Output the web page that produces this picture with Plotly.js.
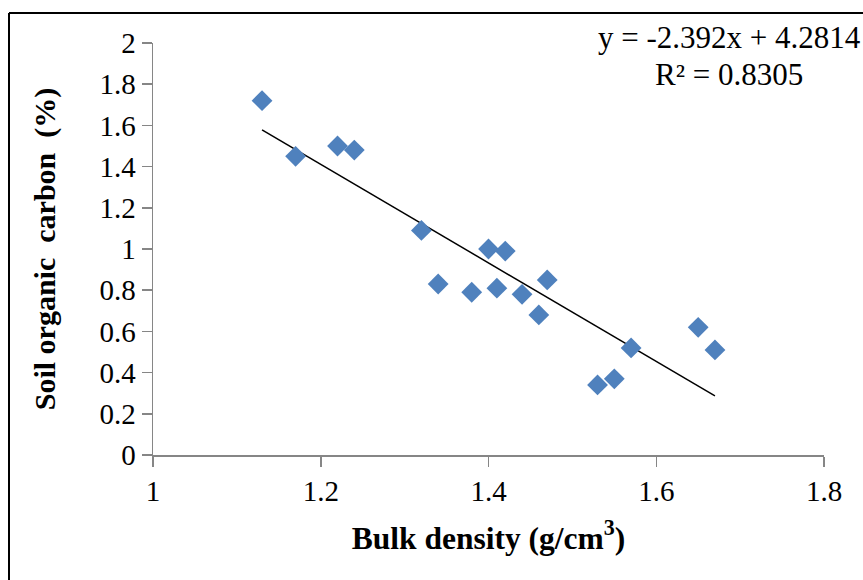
<!DOCTYPE html>
<html>
<head>
<meta charset="utf-8">
<script src="https://cdn.plot.ly/plotly-3.0.1.min.js"></script>
<style>html,body{margin:0;padding:0;background:#fff;}#chart{width:863px;height:580px;}</style>
</head>
<body>
<div id="chart"></div>
<script>
const bulkDensity = [1.13, 1.17, 1.22, 1.24, 1.32, 1.34, 1.38, 1.40, 1.42, 1.41, 1.44, 1.47, 1.46, 1.57, 1.53, 1.55, 1.65, 1.67];
const soilCarbon  = [1.72, 1.45, 1.50, 1.48, 1.09, 0.83, 0.79, 1.00, 0.99, 0.81, 0.78, 0.85, 0.68, 0.52, 0.34, 0.37, 0.62, 0.51];
const trendSlope = [-2.392];
const trendIntercept = [4.2814];
const rSquared = ["0.8305"];
const xTickVals = [1, 1.2, 1.4, 1.6, 1.8];
const xTickText = ["1", "1.2", "1.4", "1.6", "1.8"];
const yTickVals = [0, 0.2, 0.4, 0.6, 0.8, 1, 1.2, 1.4, 1.6, 1.8, 2];
const yTickText = ["0", "0.2", "0.4", "0.6", "0.8", "1", "1.2", "1.4", "1.6", "1.8", "2"];

const xMin = Math.min(...bulkDensity), xMax = Math.max(...bulkDensity);
const trendX = [xMin, xMax];
const trendY = trendX.map(v => trendSlope[0] * v + trendIntercept[0]);

const serif = "Liberation Serif, Times New Roman, serif";
const axisColor = "#868686";

const data = [
  {x: trendX, y: trendY, type: "scatter", mode: "lines",
   line: {color: "#000000", width: 1.5}, hoverinfo: "skip", showlegend: false},
  {x: bulkDensity, y: soilCarbon, type: "scatter", mode: "markers",
   marker: {symbol: "diamond", size: 16, color: "#4F81BD", line: {width: 0}}, showlegend: false}
];

const layout = {
  width: 863, height: 580,
  margin: {l: 153, r: 39, t: 43, b: 125},
  paper_bgcolor: "#ffffff", plot_bgcolor: "#ffffff",
  font: {family: serif, color: "#000000", size: 29},
  showlegend: false,
  xaxis: {
    range: [1, 1.8], tickvals: xTickVals, ticktext: xTickText,
    showgrid: false, zeroline: false, showline: true, linecolor: axisColor, linewidth: 1.5,
    ticks: "outside", ticklen: 10, tickcolor: axisColor, tickwidth: 1.5,
    tickfont: {family: serif, size: 29},
    title: {text: "<b>Bulk density (g/cm<sup>3</sup>)</b>", font: {family: serif, size: 31.5}, standoff: 20}
  },
  yaxis: {
    range: [0, 2], tickvals: yTickVals, ticktext: yTickText,
    showgrid: false, zeroline: false, showline: true, linecolor: axisColor, linewidth: 1.5,
    ticks: "outside", ticklen: 10, tickcolor: axisColor, tickwidth: 1.5,
    tickfont: {family: serif, size: 29},
    title: {text: "<b>Soil organic  carbon  (%)</b>", font: {family: serif, size: 30}, standoff: 35}
  },
  annotations: [
    {xref: "paper", yref: "paper", x: 0.8585, y: 1.0128, xanchor: "center", yanchor: "middle",
     showarrow: false, text: "y = " + trendSlope[0] + "x + " + trendIntercept[0],
     font: {family: serif, size: 31, color: "#000000"}},
    {xref: "paper", yref: "paper", x: 0.8585, y: 0.9227, xanchor: "center", yanchor: "middle",
     showarrow: false, text: "R² = " + rSquared[0],
     font: {family: serif, size: 31, color: "#000000"}}
  ],
  shapes: [
    {type: "line", xref: "paper", yref: "paper", x0: -0.2146, x1: -0.2146, y0: -0.35, y1: 1.0729,
     line: {color: "#000000", width: 2}},
    {type: "line", xref: "paper", yref: "paper", x0: -0.2146, x1: 1.1, y0: 1.0729, y1: 1.0729,
     line: {color: "#000000", width: 2}}
  ]
};

Plotly.newPlot("chart", data, layout, {displayModeBar: false, staticPlot: true});
</script>
</body>
</html>
